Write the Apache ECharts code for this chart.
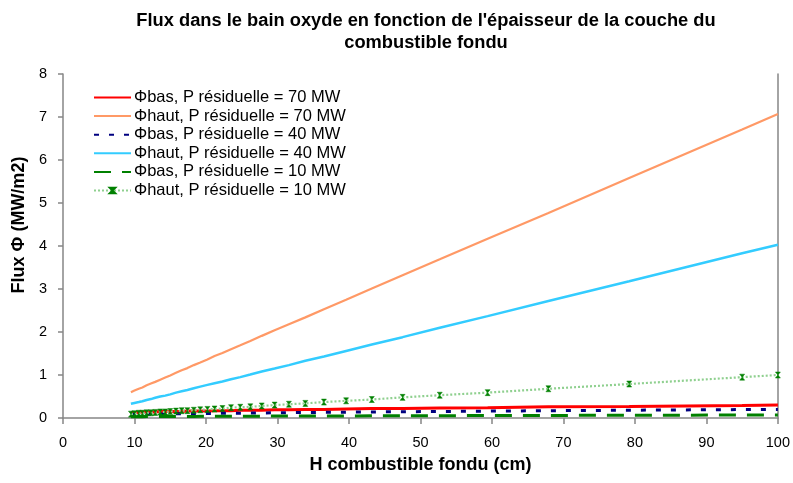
<!DOCTYPE html>
<html>
<head>
<meta charset="utf-8">
<script src="https://cdn.jsdelivr.net/npm/echarts@6/dist/echarts.min.js"></script>
<style>
  html, body { margin: 0; padding: 0; background: #ffffff; }
  #chart { width: 793px; height: 483px; }
</style>
</head>
<body>
<div id="chart"></div>
<script>
// Thickness of the molten fuel layer (cm)
const H = [9.5, 10.0, 10.6, 11.1, 11.7, 12.3, 12.9, 13.6, 14.3, 15.0, 15.8, 16.6, 17.4, 18.3, 19.2,
  20.2, 21.2, 22.3, 23.5, 24.8, 26.2, 27.8, 29.6, 31.6, 33.9, 36.5, 39.6, 43.2, 47.5, 52.7,
  59.4, 67.9, 79.2, 95.0, 100];

// Heat flux (MW/m2)
const phiBas70 = [0.13, 0.13, 0.13, 0.14, 0.14, 0.14, 0.14, 0.15, 0.15, 0.15, 0.15, 0.15, 0.16, 0.16, 0.16,
  0.16, 0.17, 0.17, 0.17, 0.18, 0.18, 0.18, 0.19, 0.19, 0.20, 0.20, 0.21, 0.22, 0.22, 0.23,
  0.24, 0.26, 0.27, 0.29, 0.30];
const phiHaut70 = [0.60, 0.64, 0.68, 0.71, 0.76, 0.80, 0.84, 0.89, 0.94, 0.99, 1.05, 1.11, 1.16, 1.23, 1.29,
  1.36, 1.44, 1.51, 1.60, 1.69, 1.79, 1.91, 2.04, 2.18, 2.34, 2.53, 2.75, 3.01, 3.32, 3.69,
  4.17, 4.77, 5.58, 6.71, 7.07];
const phiBas40 = [0.080, 0.081, 0.083, 0.084, 0.086, 0.088, 0.089, 0.091, 0.092, 0.094, 0.096, 0.097, 0.099, 0.101, 0.103,
  0.105, 0.106, 0.108, 0.111, 0.113, 0.115, 0.118, 0.121, 0.124, 0.128, 0.131, 0.136, 0.141, 0.146, 0.152,
  0.160, 0.170, 0.181, 0.196, 0.200];
const phiHaut40 = [0.33, 0.35, 0.37, 0.39, 0.42, 0.44, 0.47, 0.50, 0.52, 0.55, 0.59, 0.62, 0.65, 0.69, 0.73,
  0.77, 0.81, 0.85, 0.90, 0.95, 1.01, 1.08, 1.15, 1.23, 1.33, 1.43, 1.56, 1.71, 1.88, 2.10,
  2.37, 2.72, 3.18, 3.83, 4.03];
const phiBas10 = [0.030, 0.030, 0.031, 0.031, 0.032, 0.032, 0.033, 0.034, 0.034, 0.035, 0.035, 0.036, 0.036, 0.037, 0.038,
  0.038, 0.039, 0.040, 0.040, 0.041, 0.042, 0.043, 0.044, 0.045, 0.046, 0.047, 0.049, 0.050, 0.052, 0.054,
  0.057, 0.060, 0.064, 0.069, 0.070];
const phiHaut10 = [0.09, 0.10, 0.11, 0.11, 0.12, 0.12, 0.13, 0.14, 0.14, 0.15, 0.16, 0.17, 0.17, 0.18, 0.19,
  0.20, 0.21, 0.22, 0.24, 0.25, 0.26, 0.28, 0.30, 0.32, 0.34, 0.37, 0.40, 0.43, 0.48, 0.53,
  0.59, 0.68, 0.79, 0.95, 1.00];

const seriesNames = [
  'Φbas, P résiduelle = 70 MW',
  'Φhaut, P résiduelle = 70 MW',
  'Φbas, P résiduelle = 40 MW',
  'Φhaut, P résiduelle = 40 MW',
  'Φbas, P résiduelle = 10 MW',
  'Φhaut, P résiduelle = 10 MW'
];
// only the last curve carries point markers
const hasMarker = [false, false, false, false, false, true];

const titleText = "Flux dans le bain oxyde en fonction de l'épaisseur de la couche du\ncombustible fondu";
const xAxisTitle = 'H combustible fondu (cm)';
const yAxisTitle = 'Flux Φ (MW/m2)';
const xTicks = { min: 0, max: 100, step: 10 };
const yTicks = { min: 0, max: 8, step: 1 };

const FONT = "'Liberation Sans', Arial, sans-serif";
const AXIS_GREY = '#868686';

function pairs(values) {
  return H.map((h, i) => [h, values[i]]);
}

// hourglass-shaped marker on the 10 MW upper-flux curve
const starMarker = 'path://M0,0L10,0L0,10L10,10Z';

const chart = echarts.init(document.getElementById('chart'), null, { renderer: 'canvas' });

chart.setOption({
  animation: false,
  backgroundColor: '#ffffff',
  title: {
    text: titleText,
    left: 421,
    top: 5,
    textAlign: 'center',
    textStyle: {
      fontFamily: FONT,
      fontWeight: 'bold',
      fontSize: 18.3,
      lineHeight: 22,
      color: '#000000'
    }
  },
  grid: { left: 63, right: 14, top: 74, bottom: 65, containLabel: false },
  legend: {
    left: 93,
    top: 89,
    padding: 0,
    orient: 'vertical',
    itemWidth: 37,
    itemHeight: 7,
    itemGap: 1.6,
    textStyle: { fontFamily: FONT, fontSize: 16.5, color: '#000000', padding: [0, 0, 0, -2] },
    data: seriesNames.map((name, i) => hasMarker[i]
      ? { name: name }
      : { name: name, itemStyle: { opacity: 0 } })
  },
  xAxis: {
    type: 'value',
    min: xTicks.min,
    max: xTicks.max,
    interval: xTicks.step,
    name: xAxisTitle,
    nameLocation: 'middle',
    nameGap: 38,
    nameTextStyle: { fontFamily: FONT, fontWeight: 'bold', fontSize: 18, color: '#000000' },
    axisLine: { onZero: false, lineStyle: { color: AXIS_GREY, width: 1.5 } },
    axisTick: { show: true, inside: false, length: 6, lineStyle: { color: AXIS_GREY, width: 1.5 } },
    axisLabel: { margin: 17, fontFamily: FONT, fontSize: 14.5, color: '#000000' },
    splitLine: { show: false }
  },
  yAxis: [{
    type: 'value',
    min: yTicks.min,
    max: yTicks.max,
    interval: yTicks.step,
    name: yAxisTitle,
    nameLocation: 'middle',
    nameGap: 31,
    nameRotate: 90,
    nameTextStyle: { fontFamily: FONT, fontWeight: 'bold', fontSize: 18, color: '#000000', padding: [0, 0, 0, 42] },
    axisLine: { show: true, onZero: false, lineStyle: { color: AXIS_GREY, width: 1.5 } },
    axisTick: { show: true, inside: false, length: 5, lineStyle: { color: AXIS_GREY, width: 1.5 } },
    axisLabel: { margin: 16, fontFamily: FONT, fontSize: 14.5, color: '#000000' },
    splitLine: { show: false }
  }, {
    type: 'value',
    position: 'right',
    min: yTicks.min,
    max: yTicks.max,
    interval: yTicks.step,
    axisLine: { show: true, onZero: false, lineStyle: { color: AXIS_GREY, width: 1.5 } },
    axisTick: { show: false },
    axisLabel: { show: false },
    splitLine: { show: false }
  }],
  series: [
    {
      name: seriesNames[0], type: 'line', data: pairs(phiBas70),
      symbol: 'none', lineStyle: { color: '#ff0000', width: 3 }, itemStyle: { color: '#ff0000' }
    },
    {
      name: seriesNames[1], type: 'line', data: pairs(phiHaut70),
      symbol: 'none', lineStyle: { color: '#ff9966', width: 2.2 }, itemStyle: { color: '#ff9966' }
    },
    {
      name: seriesNames[2], type: 'line', data: pairs(phiBas40),
      symbol: 'none', lineStyle: { color: '#000080', width: 3, type: [5, 10] }, itemStyle: { color: '#000080' }
    },
    {
      name: seriesNames[3], type: 'line', data: pairs(phiHaut40),
      symbol: 'none', lineStyle: { color: '#33ccff', width: 2.5 }, itemStyle: { color: '#33ccff' }
    },
    {
      name: seriesNames[4], type: 'line', data: pairs(phiBas10),
      symbol: 'none', lineStyle: { color: '#008000', width: 3, type: [17, 11] }, itemStyle: { color: '#008000' }
    },
    {
      name: seriesNames[5], type: 'line', data: pairs(phiHaut10),
      symbol: starMarker, symbolSize: [5, 6], showSymbol: true,
      lineStyle: { color: '#8fd08f', width: 2.2, type: [2, 2] },
      itemStyle: { color: '#008000', borderColor: '#008000', borderWidth: 0.5 }
    }
  ]
});
</script>
</body>
</html>
